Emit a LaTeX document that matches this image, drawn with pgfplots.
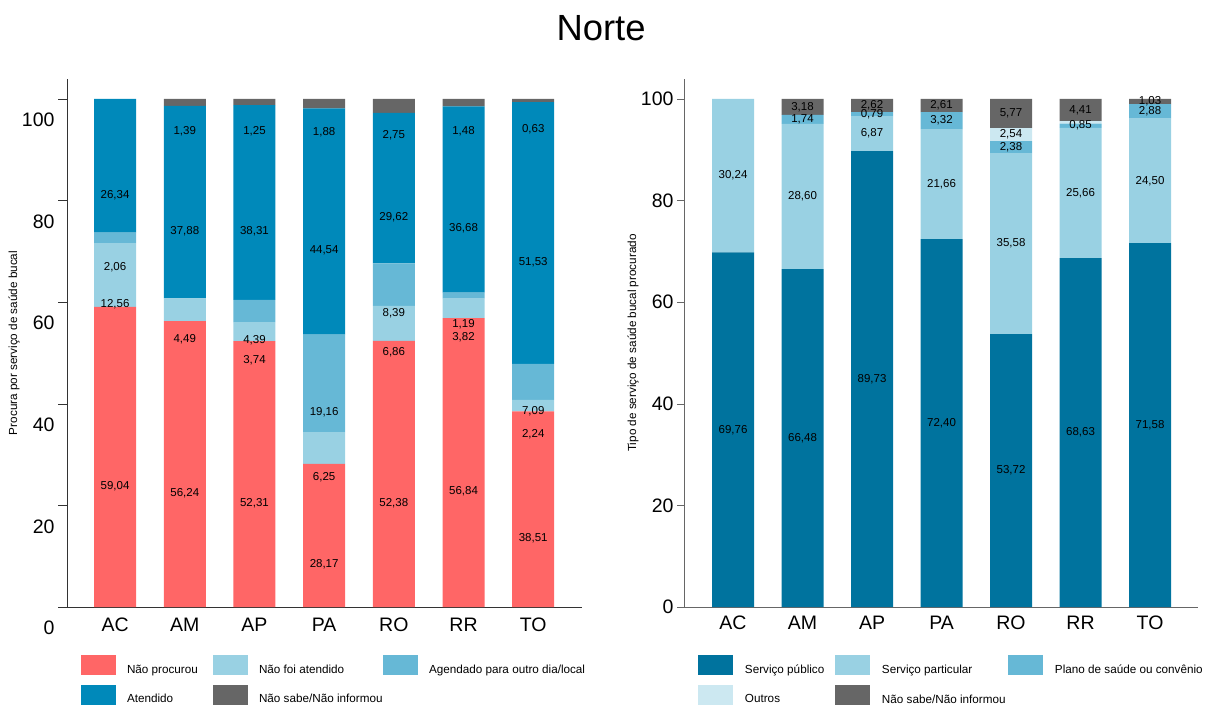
\documentclass[border=0pt]{standalone}
\usepackage{pgfplots}
\pgfplotsset{compat=1.18}
\usepackage{fontspec}
\setmainfont{Liberation Sans}
\definecolor{cRed}{HTML}{FF6666}
\definecolor{cLight}{HTML}{99D1E3}
\definecolor{cMid}{HTML}{66B8D6}
\definecolor{cAt}{HTML}{0089BA}
\definecolor{cGray}{HTML}{666666}
\definecolor{cPub}{HTML}{00739E}
\definecolor{cOut}{HTML}{CCE8F1}
\pgfplotsset{
  base/.style={
    scale only axis, height=528pt,
    ybar stacked, bar width=42pt,
    ymin=0, ymax=103.9,
    xtick={0,...,6}, xticklabels={AC,AM,AP,PA,RO,RR,TO},
    ytick={0,20,...,100},
    axis x line*=bottom, axis y line*=left,
    x tick style={draw=none},
    tick align=outside,
    /pgf/number format/assume math mode=true,
    ticklabel style={font=\fontsize{19.5}{20}\selectfont},
    xticklabel style={anchor=north, inner sep=0pt, yshift=-2pt},
    every axis y label/.style={rotate=90, anchor=center, font=\fontsize{11.7}{13}\selectfont},
    nodes near coords,
    point meta=explicit symbolic,
    every node near coord/.append style={anchor=center, font=\fontsize{11.5}{12}\selectfont, text=black, inner sep=0pt},
    legend columns=3,
    legend image code/.code={\fill[#1] (0pt,-5pt) rectangle (35pt,15pt);},
  }
}
\begin{document}
\begin{tikzpicture}
\path[use as bounding box] (0pt,-704pt) rectangle (1215pt,0pt);
\node[font=\fontsize{36.4}{40}\selectfont] at (601pt,-28pt) {Norte};
% ---------------- left
\begin{axis}[base,
  at={(67pt,-607pt)}, anchor=south west,
  width=515pt, xmin=-0.69, xmax=6.70,
  axis line style={black!80},
  y tick style={black!80}, major tick length=9pt,
  yticklabel style={yshift=-21pt},
  ylabel={Procura por serviço de saúde bucal},
  every axis y label/.append style={at={(axis description cs:-0.103,0.5)}},
  every node near coord/.append style={yshift=-29pt},
  legend style={at={(axis description cs:0.0272,-0.0909)}, anchor=north west, draw=none, inner sep=0pt, outer sep=0pt, row sep=9.5pt,
    nodes={inner sep=0pt, font=\fontsize{11.7}{13}\selectfont},
    /tikz/every odd column/.style={column sep=11pt},
    /tikz/every even column/.style={column sep=0pt}},
]
\addplot[fill=cRed, draw=none] coordinates {(0,59.04) [59,04] (1,56.24) [56,24] (2,52.31) [52,31] (3,28.17) [28,17] (4,52.38) [52,38] (5,56.84) [56,84] (6,38.51) [38,51]};
\addlegendentry{\makebox[86pt][l]{Não procurou}}
\addplot[fill=cLight, draw=none] coordinates {(0,12.56) [12,56] (1,4.49) [4,49] (2,3.74) [3,74] (3,6.25) [6,25] (4,6.86) [6,86] (5,3.82) [3,82] (6,2.24) [2,24]};
\addlegendentry{\makebox[124pt][l]{Não foi atendido}}
\addplot[fill=cMid, draw=none] coordinates {(0,2.06) [2,06] (1,0) [\relax] (2,4.39) [4,39] (3,19.16) [19,16] (4,8.39) [8,39] (5,1.19) [1,19] (6,7.09) [7,09]};
\addlegendentry{Agendado para outro dia/local}
\addplot[fill=cAt, draw=none] coordinates {(0,26.34) [26,34] (1,37.88) [37,88] (2,38.31) [38,31] (3,44.54) [44,54] (4,29.62) [29,62] (5,36.68) [36,68] (6,51.53) [51,53]};
\addlegendentry{\makebox[86pt][l]{Atendido}}
\addplot[fill=cGray, draw=none] coordinates {(0,0) [\relax] (1,1.39) [1,39] (2,1.25) [1,25] (3,1.88) [1,88] (4,2.75) [2,75] (5,1.48) [1,48] (6,0.63) [0,63]};
\addlegendentry{\makebox[124pt][l]{Não sabe/Não informou}}
\end{axis}
% ---------------- right
\begin{axis}[base,
  at={(684pt,-607pt)}, anchor=south west,
  width=514pt, xmin=-0.705, xmax=6.69,
  axis line style={black!60},
  y tick style={black!60}, major tick length=7pt,
  ylabel={Tipo de serviço de saúde bucal procurado},
  every axis y label/.append style={at={(axis description cs:-0.0992,0.5)}},
  legend style={at={(axis description cs:0.0272,-0.0909)}, anchor=north west, draw=none, inner sep=0pt, outer sep=0pt, row sep=9.5pt,
    nodes={inner sep=0pt, font=\fontsize{11.7}{13}\selectfont},
    /tikz/every odd column/.style={column sep=12pt},
    /tikz/every even column/.style={column sep=0pt}},
]
\addplot[fill=cPub, draw=none] coordinates {(0,69.76) [69,76] (1,66.48) [66,48] (2,89.73) [89,73] (3,72.40) [72,40] (4,53.72) [53,72] (5,68.63) [68,63] (6,71.58) [71,58]};
\addlegendentry{\makebox[90pt][l]{Serviço público}}
\addplot[fill=cLight, draw=none] coordinates {(0,30.24) [30,24] (1,28.60) [28,60] (2,6.87) [6,87] (3,21.66) [21,66] (4,35.58) [35,58] (5,25.66) [25,66] (6,24.50) [24,50]};
\addlegendentry{\makebox[126pt][l]{Serviço particular}}
\addplot[fill=cMid, draw=none] coordinates {(0,0) [\relax] (1,1.74) [1,74] (2,0.79) [0,79] (3,3.32) [3,32] (4,2.38) [2,38] (5,0.85) [0,85] (6,2.88) [2,88]};
\addlegendentry{Plano de saúde ou convênio}
\addplot[fill=cOut, draw=none] coordinates {(0,0) [\relax] (1,0) [\relax] (2,0) [\relax] (3,0) [\relax] (4,2.54) [2,54] (5,0.45) [\relax] (6,0) [\relax]};
\addlegendentry{\makebox[90pt][l]{Outros}}
\addplot[fill=cGray, draw=none] coordinates {(0,0) [\relax] (1,3.18) [3,18] (2,2.62) [2,62] (3,2.61) [2,61] (4,5.77) [5,77] (5,4.41) [4,41] (6,1.03) [1,03]};
\addlegendentry{\makebox[126pt][l]{Não sabe/Não informou}}
\end{axis}
\end{tikzpicture}
\end{document}
